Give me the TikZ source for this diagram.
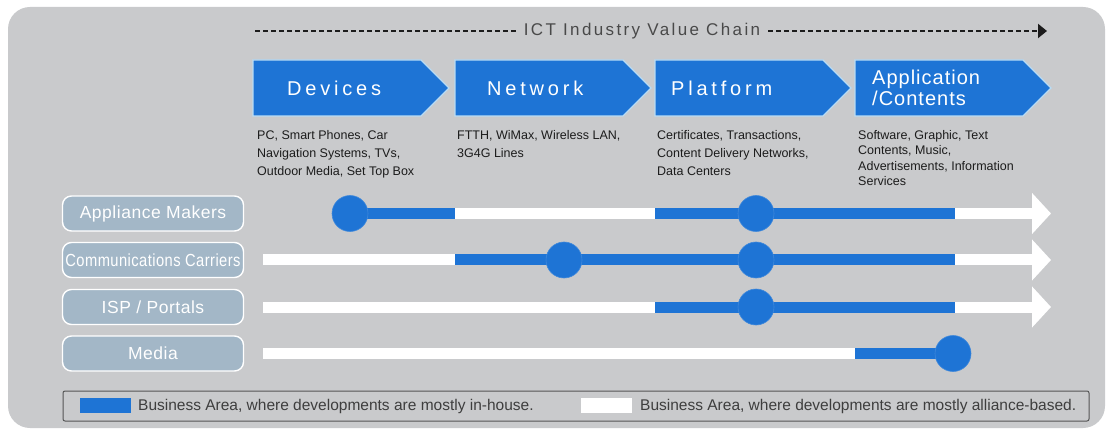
\documentclass[tikz,border=0pt]{standalone}
\usepackage{fontspec}
\setmainfont{Liberation Sans}
\newfontfamily\stepfont[LetterSpace=19]{Liberation Sans}
\newfontfamily\appfont[LetterSpace=5]{Liberation Sans}
\newfontfamily\chainfont[LetterSpace=14]{Liberation Sans}
\newfontfamily\rolefont[LetterSpace=3]{Liberation Sans}
\usepackage{graphicx}
\usetikzlibrary{arrows.meta}
\definecolor{chainblue}{HTML}{1E74D5}
\definecolor{chainedge}{HTML}{B9DCF4}
\definecolor{panelgray}{HTML}{C9CACC}
\definecolor{rolegray}{HTML}{A3B7C7}
\definecolor{textdark}{HTML}{1C1C1C}
\tikzset{%
    >={Triangle[length=9pt,width=14pt]},
    stepname/.style={anchor=west, align=left, text=white, inner sep=0pt},
    desc/.style={anchor=north west, align=left, inner sep=0pt, text=textdark,
        font=\fontsize{12.5}{18}\selectfont},
    role/.style={draw=white, line width=1.4pt, fill=rolegray, rounded corners=9pt,
        text=white, minimum width=181pt, minimum height=35pt, inner sep=0pt,
        font=\rolefont\fontsize{17.5}{17.5}\selectfont},
    inhouse/.style={chainblue, line width=11pt},
    alliance/.style={white, line width=11pt},
    flow/.style={-{Triangle[length=19pt,width=40pt]}},
    hub/.style={circle, fill=chainblue, draw=chainblue!85!white, line width=0.6pt,
        minimum size=36pt, inner sep=0pt},
    swatch/.style={minimum width=51pt, minimum height=15pt, inner sep=0pt},
    legendtext/.style={anchor=west, inner sep=0pt, text=textdark!85!white,
        font=\fontsize{15.5}{15.5}\selectfont}
}
\newcommand\ValueStep[5]{%
    \filldraw[fill=chainblue, draw=chainedge, line width=1.2pt]
        (#1,60) -- (#1+168,60) -- (#1+196,88) -- (#1+168,116) -- (#1,116) -- cycle;
    \node[stepname, font=#4] (#2) at (#3,88) {#5}
}

\begin{document}
\begin{tikzpicture}[x=1pt, y=-1pt]
      \useasboundingbox (0,0) rectangle (1113,430);
      \fill[panelgray, rounded corners=22pt] (8,7) rectangle (1105,428);

      % value chain heading
      \node[text=textdark!80!white, inner sep=0pt,
          font=\chainfont\fontsize{17}{17}\selectfont] (chain) at (642,31) {ICT Industry Value Chain};
      \coordinate (chainstart) at (255,31);
      \coordinate (chainend) at (1047,31);
      \draw[line width=2pt, dash pattern=on 5pt off 3pt, textdark] (chainstart) -- ([xshift=-8pt]chain.west);
      \draw[line width=2pt, dash pattern=on 5pt off 3pt, textdark, ->] ([xshift=8pt]chain.east) -- (chainend);

      \ValueStep{253}{devices}{287}{\stepfont\fontsize{20}{20}\selectfont}{Devices};
      \ValueStep{455}{network}{487}{\stepfont\fontsize{20}{20}\selectfont}{Network};
      \ValueStep{655}{platform}{671}{\stepfont\fontsize{20}{20}\selectfont}{Platform};
      \ValueStep{855}{application}{872}{\appfont\fontsize{20}{21}\selectfont}{Application\\/Contents};

      \node[desc] (devicesinfo) at (257,130) {PC, Smart Phones, Car\\Navigation Systems, TVs,\\Outdoor Media, Set Top Box};
      \node[desc] (networkinfo) at (457,130) {FTTH, WiMax, Wireless LAN,\\3G4G Lines};
      \node[desc] (platforminfo) at (657,130) {Certificates, Transactions,\\Content Delivery Networks,\\Data Centers};
      \node[desc, font=\fontsize{12.5}{15.5}\selectfont] (applicationinfo) at (858,130) {Software, Graphic, Text\\Contents, Music,\\Advertisements, Information\\Services};

      % players
      \node[role] (makers) at (153,213.5) {Appliance Makers};
      \node[role] (carriers) at (153,260) {\scalebox{0.84}[1]{Communications Carriers}};
      \node[role] (portals) at (153,307) {ISP / Portals};
      \node[role] (media) at (153,353.5) {Media};

      % appliance makers
      \coordinate (makersdot1) at (350,213.5);
      \coordinate (makersa) at (455,213.5);
      \coordinate (makersb) at (655,213.5);
      \coordinate (makersdot2) at (756,213.5);
      \coordinate (makersc) at (955,213.5);
      \coordinate (makersend) at (1051,213.5);
      \draw[alliance] (makersa) -- (makersb);
      \draw[alliance, flow] (makersc) -- (makersend);
      \draw[inhouse] (makersdot1) -- (makersa);
      \draw[inhouse] (makersb) -- (makersc);

      % communications carriers
      \coordinate (carriersstart) at (263,260);
      \coordinate (carriersa) at (455,260);
      \coordinate (carriersdot1) at (564,260);
      \coordinate (carriersdot2) at (756,260);
      \coordinate (carriersc) at (955,260);
      \coordinate (carriersend) at (1051,260);
      \draw[alliance] (carriersstart) -- (carriersa);
      \draw[alliance, flow] (carriersc) -- (carriersend);
      \draw[inhouse] (carriersa) -- (carriersc);

      % isp / portals
      \coordinate (portalsstart) at (263,307);
      \coordinate (portalsb) at (655,307);
      \coordinate (portalsdot) at (756,307);
      \coordinate (portalsc) at (955,307);
      \coordinate (portalsend) at (1051,307);
      \draw[alliance] (portalsstart) -- (portalsb);
      \draw[alliance, flow] (portalsc) -- (portalsend);
      \draw[inhouse] (portalsb) -- (portalsc);

      % media
      \coordinate (mediastart) at (263,353.5);
      \coordinate (mediab) at (855,353.5);
      \coordinate (mediadot) at (953,353.5);
      \draw[alliance] (mediastart) -- (mediab);
      \draw[inhouse] (mediab) -- (mediadot);

      \node[hub] (makershub1) at (makersdot1) {};
      \node[hub] (makershub2) at (makersdot2) {};
      \node[hub] (carriershub1) at (carriersdot1) {};
      \node[hub] (carriershub2) at (carriersdot2) {};
      \node[hub] (portalshub) at (portalsdot) {};
      \node[hub] (mediahub) at (mediadot) {};

      % legend
      \node[draw=textdark!75!white, line width=1pt, rounded corners=2pt, minimum width=1026pt,
          minimum height=30pt, inner sep=0pt] (legend) at (576,406) {};
      \node[swatch, fill=chainblue] (inhousekey) at (105.5,405.5) {};
      \node[legendtext] (inhousetext) at (138,406) {Business Area, where developments are mostly in-house.};
      \node[swatch, fill=white] (alliancekey) at (606,405.5) {};
      \node[legendtext] (alliancetext) at (640,406) {Business Area, where developments are mostly alliance-based.};
\end{tikzpicture}
\end{document}
